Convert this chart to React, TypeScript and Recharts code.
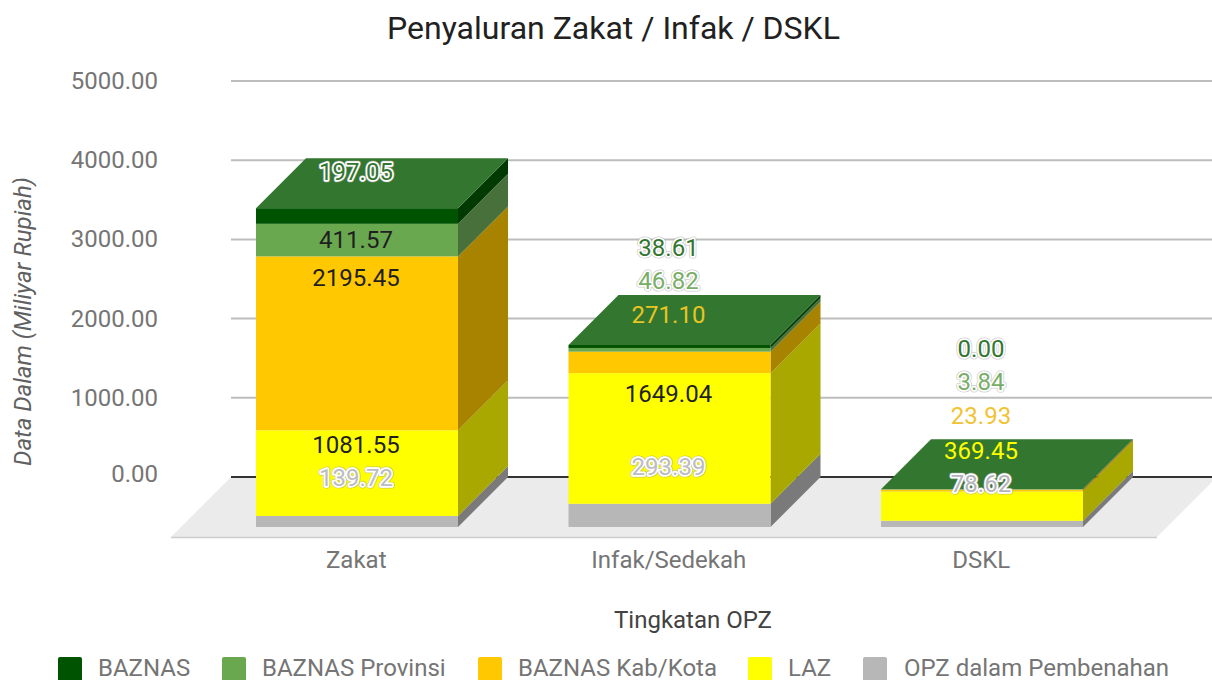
import { BarChart, Bar, XAxis, YAxis, CartesianGrid } from "recharts";

const CATEGORIES = ["Zakat", "Infak/Sedekah", "DSKL"];
const BAZNAS = [197.05, 38.61, 0];
const PROVINSI = [411.57, 46.82, 3.84];
const KAB_KOTA = [2195.45, 271.1, 23.93];
const LAZ = [1081.55, 1649.04, 369.45];
const OPZ = [139.72, 293.39, 78.62];
const Y_TICKS = [0, 1000, 2000, 3000, 4000, 5000];

const SERIES_NAMES = ["BAZNAS", "BAZNAS Provinsi", "BAZNAS Kab/Kota", "LAZ", "OPZ dalam Pembenahan"];
const SERIES_KEYS = ["baznas", "provinsi", "kabKota", "laz", "opz"];
const FRONT_COLORS = ["#005300", "#6aa84f", "#ffc800", "#ffff00", "#b7b7b7"];
const SIDE_COLORS = ["#003a00", "#47703a", "#a88300", "#a8a800", "#7a7a7a"];
const TOP_COLOR = "#33762f";

// Google's label placement does not follow the segments, so the rows are kept by hand
const LABEL_ROWS = [
  [172, 240, 278, 445, 478],
  [248, 281, 315, 394, 467],
  [349, 382, 416, 451, 484],
];
const LABEL_COLORS = [
  ["#33762f", "#1f1f1f", "#1f1f1f", "#1f1f1f", "#bcbcc4"],
  ["#33762f", "#7aae68", "#e8c522", "#1f1f1f", "#bcbcc4"],
  ["#33762f", "#7aae68", "#f1c232", "#ffff00", "#b4b4bc"],
];
const LABEL_HALO = [
  [true, false, false, false, true],
  [true, true, false, false, true],
  [true, true, false, false, true],
];

const LEGEND_SWATCH_X = [58, 222, 478, 748, 863];
const LEGEND_TEXT_X = [98, 262, 518, 788, 904];

const WIDTH = 1212;
const HEIGHT = 680;
const FONT = "Roboto, sans-serif";
const DEPTH = 50;
const SHIFT_X = -30; // bars sit in front of the back plane
const SHIFT_Y = 50;

const data = CATEGORIES.map((name, i) => ({
  name,
  index: i,
  baznas: BAZNAS[i],
  provinsi: PROVINSI[i],
  kabKota: KAB_KOTA[i],
  laz: LAZ[i],
  opz: OPZ[i],
}));

function Segment({ x, y, width, height, front, side }: any) {
  const left = x + SHIFT_X;
  const right = left + width;
  const top = y + SHIFT_Y;
  const bottom = top + height;
  return (
    <g>
      <polygon
        points={`${right},${top} ${right + DEPTH},${top - DEPTH} ${right + DEPTH},${bottom - DEPTH} ${right},${bottom}`}
        fill={side}
      />
      <rect x={left} y={top} width={width} height={height} fill={front} />
    </g>
  );
}

function DataLabel({ x, y, value, color, halo }: any) {
  const common = {
    x,
    y,
    textAnchor: "middle" as const,
    dominantBaseline: "central" as const,
    fontFamily: FONT,
    fontSize: 24,
    strokeLinejoin: "round" as const,
  };
  return (
    <g>
      {halo && <text {...common} fill="none" stroke="#9e9e9e" strokeOpacity={0.55} strokeWidth={5}>{value}</text>}
      {halo && <text {...common} fill="none" stroke="#ffffff" strokeWidth={3.5}>{value}</text>}
      <text {...common} fill={color}>{value}</text>
    </g>
  );
}

function TopSegment(props: any) {
  const { x, y, width, payload } = props;
  const left = x + SHIFT_X;
  const right = left + width;
  const top = y + SHIFT_Y;
  const cx = left + width / 2 - 1;
  const row = payload.index;
  return (
    <g>
      <Segment {...props} front={FRONT_COLORS[0]} side={SIDE_COLORS[0]} />
      <polygon
        points={`${left},${top} ${left + DEPTH},${top - DEPTH} ${right + DEPTH},${top - DEPTH} ${right},${top}`}
        fill={TOP_COLOR}
      />
      {SERIES_KEYS.map((key, i) => (
        <DataLabel
          key={key}
          x={cx}
          y={LABEL_ROWS[row][i]}
          value={payload[key].toFixed(2)}
          color={LABEL_COLORS[row][i]}
          halo={LABEL_HALO[row][i]}
        />
      ))}
    </g>
  );
}

function XTick({ x, payload }: any) {
  return (
    <text x={x + SHIFT_X - 1} y={560} textAnchor="middle" dominantBaseline="central" fontFamily={FONT} fontSize={24} fill="#757575">
      {payload.value}
    </text>
  );
}

function YTick({ x, y, payload }: any) {
  return (
    <text
      x={x}
      y={payload.value === 0 ? y - 3 : y}
      textAnchor="end"
      dominantBaseline="central"
      fontFamily={FONT}
      fontSize={24}
      fill="#757575"
    >
      {payload.value.toFixed(2)}
    </text>
  );
}

export default function App() {
  return (
    <div style={{ position: "absolute", left: 0, top: 0, width: WIDTH, height: HEIGHT, overflow: "hidden", background: "#fff" }}>
      <BarChart
        width={WIDTH}
        height={HEIGHT}
        data={data}
        margin={{ top: 81, right: 0, bottom: 143, left: 0 }}
        barSize={202}
      >
        <polygon points="171,537 231,477 1217,477 1157,537" fill="#ebebeb" />
        <line x1={171} y1={537.5} x2={1157} y2={537.5} stroke="#cccccc" strokeWidth={1.5} />
        <CartesianGrid vertical={false} stroke="#bdbdbd" strokeWidth={2} />
        <line x1={231} y1={477} x2={1212} y2={477} stroke="#333333" strokeWidth={2} />
        <XAxis
          dataKey="name"
          height={60}
          axisLine={false}
          tickLine={false}
          padding={{ left: 0, right: 43.5 }}
          interval={0}
          tick={<XTick />}
        />
        <YAxis
          width={231}
          domain={[0, 5000]}
          ticks={Y_TICKS}
          axisLine={false}
          tickLine={false}
          tickSize={0}
          tickMargin={73}
          tick={<YTick />}
        />
        {[4, 3, 2, 1].map((i) => (
          <Bar
            key={SERIES_KEYS[i]}
            dataKey={SERIES_KEYS[i]}
            stackId="opz"
            isAnimationActive={false}
            shape={(p: any) => <Segment {...p} front={FRONT_COLORS[i]} side={SIDE_COLORS[i]} />}
          />
        ))}
        <Bar dataKey="baznas" stackId="opz" isAnimationActive={false} shape={(p: any) => <TopSegment {...p} />} />

        <text x={613.5} y={28} textAnchor="middle" dominantBaseline="central" fontFamily={FONT} fontSize={32} fill="#212121">
          Penyaluran Zakat / Infak / DSKL
        </text>
        <text
          transform="translate(23,321.5) rotate(-90)"
          textAnchor="middle"
          dominantBaseline="central"
          fontFamily={FONT}
          fontSize={24}
          fontStyle="italic"
          fill="#616161"
        >
          Data Dalam (Miliyar Rupiah)
        </text>
        <text x={693} y={620} textAnchor="middle" dominantBaseline="central" fontFamily={FONT} fontSize={24} fill="#424242">
          Tingkatan OPZ
        </text>
        {SERIES_NAMES.map((name, i) => (
          <g key={name}>
            <rect x={LEGEND_SWATCH_X[i]} y={657} width={24} height={30} rx={2} fill={FRONT_COLORS[i]} />
            <text x={LEGEND_TEXT_X[i]} y={668} dominantBaseline="central" fontFamily={FONT} fontSize={24} fill="#757575">
              {name}
            </text>
          </g>
        ))}
      </BarChart>
    </div>
  );
}
